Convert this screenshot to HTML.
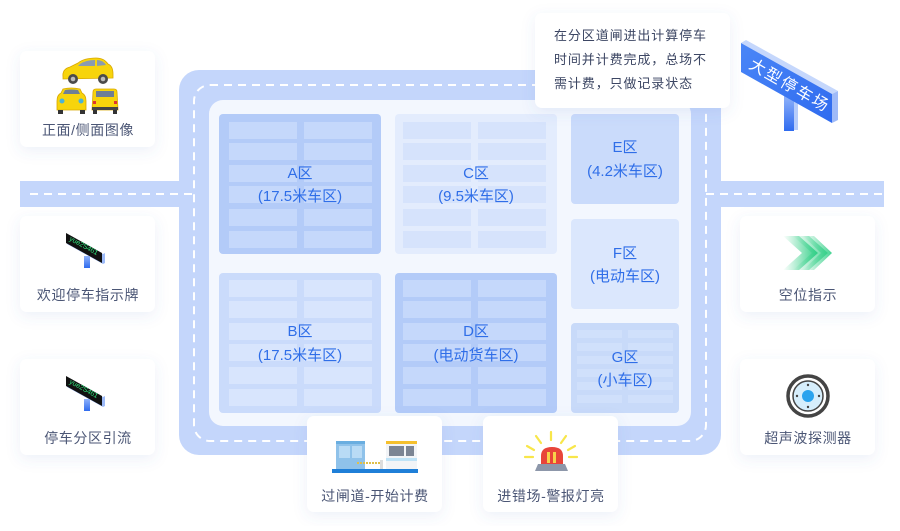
<!DOCTYPE html>
<html><head><meta charset="utf-8"><style>
html,body{margin:0;padding:0;background:#fff;}
body{width:900px;height:526px;overflow:hidden;}
svg text{font-family:"Liberation Sans","Noto Sans CJK SC",sans-serif;}
</style></head><body>
<svg width="900" height="526" viewBox="0 0 900 526" xmlns="http://www.w3.org/2000/svg">
<defs>
<filter id="sh" x="-30%" y="-30%" width="160%" height="160%">
<feDropShadow dx="0" dy="4" stdDeviation="7" flood-color="#4a72c4" flood-opacity="0.10"/>
</filter>
<linearGradient id="chev" x1="0" y1="0" x2="1" y2="0">
<stop offset="0" stop-color="#3ad08a" stop-opacity="0"/>
<stop offset="1" stop-color="#2fcf86" stop-opacity="1"/>
</linearGradient>
<linearGradient id="signf" x1="0" y1="0" x2="1" y2="1">
<stop offset="0" stop-color="#4a86f7"/>
<stop offset="1" stop-color="#2f6bef"/>
</linearGradient>
<linearGradient id="post" x1="0" y1="0" x2="0" y2="1">
<stop offset="0" stop-color="#8fb2fa"/>
<stop offset="1" stop-color="#2f6bef"/>
</linearGradient>
</defs>

<!-- roads -->
<rect x="20" y="181" width="165" height="26" fill="#c4d6fb"/>
<rect x="715" y="181" width="169" height="26" fill="#c4d6fb"/>
<rect x="179" y="70" width="542" height="385" rx="20" fill="#c4d6fb"/>
<rect x="209" y="100" width="482" height="326" rx="14" fill="#f3f7fe"/>
<rect x="194" y="85" width="512" height="356" rx="16" fill="none" stroke="#fff" stroke-width="2" stroke-dasharray="8 6"/>
<line x1="30" y1="194" x2="194" y2="194" stroke="#fff" stroke-width="2" stroke-dasharray="8 6"/>
<line x1="706" y1="194" x2="884" y2="194" stroke="#fff" stroke-width="2" stroke-dasharray="8 6"/>

<!-- Zone A -->
<rect x="219" y="114" width="162" height="140" rx="4" fill="#b3cbf8"/>
<g fill="#c5d8fb">
<rect x="229" y="122" width="68" height="17"/><rect x="304" y="122" width="68" height="17"/>
<rect x="229" y="143" width="68" height="17"/><rect x="304" y="143" width="68" height="17"/>
<rect x="229" y="165" width="68" height="17"/><rect x="304" y="165" width="68" height="17"/>
<rect x="229" y="186" width="68" height="17"/><rect x="304" y="186" width="68" height="17"/>
<rect x="229" y="209" width="68" height="17"/><rect x="304" y="209" width="68" height="17"/>
<rect x="229" y="231" width="68" height="17"/><rect x="304" y="231" width="68" height="17"/>
</g>
<!-- Zone C -->
<rect x="395" y="114" width="162" height="140" rx="4" fill="#e3ecfd"/>
<g fill="#d6e3fc">
<rect x="403" y="122" width="68" height="17"/><rect x="478" y="122" width="68" height="17"/>
<rect x="403" y="143" width="68" height="17"/><rect x="478" y="143" width="68" height="17"/>
<rect x="403" y="165" width="68" height="17"/><rect x="478" y="165" width="68" height="17"/>
<rect x="403" y="186" width="68" height="17"/><rect x="478" y="186" width="68" height="17"/>
<rect x="403" y="209" width="68" height="17"/><rect x="478" y="209" width="68" height="17"/>
<rect x="403" y="231" width="68" height="17"/><rect x="478" y="231" width="68" height="17"/>
</g>
<!-- Zone B -->
<rect x="219" y="273" width="162" height="140" rx="4" fill="#cadbfb"/>
<g fill="#d8e5fd">
<rect x="229" y="280" width="68" height="17"/><rect x="304" y="280" width="68" height="17"/>
<rect x="229" y="301" width="68" height="17"/><rect x="304" y="301" width="68" height="17"/>
<rect x="229" y="323" width="68" height="17"/><rect x="304" y="323" width="68" height="17"/>
<rect x="229" y="344" width="68" height="17"/><rect x="304" y="344" width="68" height="17"/>
<rect x="229" y="367" width="68" height="17"/><rect x="304" y="367" width="68" height="17"/>
<rect x="229" y="389" width="68" height="17"/><rect x="304" y="389" width="68" height="17"/>
</g>
<!-- Zone D -->
<rect x="395" y="273" width="162" height="140" rx="4" fill="#b3cbf8"/>
<g fill="#c5d8fb">
<rect x="403" y="280" width="68" height="17"/><rect x="478" y="280" width="68" height="17"/>
<rect x="403" y="301" width="68" height="17"/><rect x="478" y="301" width="68" height="17"/>
<rect x="403" y="323" width="68" height="17"/><rect x="478" y="323" width="68" height="17"/>
<rect x="403" y="344" width="68" height="17"/><rect x="478" y="344" width="68" height="17"/>
<rect x="403" y="367" width="68" height="17"/><rect x="478" y="367" width="68" height="17"/>
<rect x="403" y="389" width="68" height="17"/><rect x="478" y="389" width="68" height="17"/>
</g>
<!-- E F G -->
<rect x="571" y="114" width="108" height="90" rx="4" fill="#cadbfb"/>
<rect x="571" y="219" width="108" height="90" rx="4" fill="#dbe7fd"/>
<rect x="571" y="323" width="108" height="90" rx="4" fill="#c8daf9"/>
<g fill="#d0e0fb">
<rect x="577" y="330" width="45" height="8"/><rect x="628" y="330" width="45" height="8"/>
<rect x="577" y="343" width="45" height="8"/><rect x="628" y="343" width="45" height="8"/>
<rect x="577" y="356" width="45" height="8"/><rect x="628" y="356" width="45" height="8"/>
<rect x="577" y="369" width="45" height="8"/><rect x="628" y="369" width="45" height="8"/>
<rect x="577" y="382" width="45" height="8"/><rect x="628" y="382" width="45" height="8"/>
<rect x="577" y="395" width="45" height="8"/><rect x="628" y="395" width="45" height="8"/>
</g>

<!-- zone labels -->
<g fill="#2f6ee8" font-size="15" text-anchor="middle">
<text x="300" y="178">A区</text><text x="300" y="201">(17.5米车区)</text>
<text x="476" y="178">C区</text><text x="476" y="201">(9.5米车区)</text>
<text x="300" y="336">B区</text><text x="300" y="360">(17.5米车区)</text>
<text x="476" y="336">D区</text><text x="476" y="360">(电动货车区)</text>
<text x="625" y="152">E区</text><text x="625" y="176">(4.2米车区)</text>
<text x="625" y="258">F区</text><text x="625" y="281">(电动车区)</text>
<text x="625" y="362">G区</text><text x="625" y="385">(小车区)</text>
</g>

<!-- cards -->
<g fill="#fff" filter="url(#sh)">
<rect x="20" y="51" width="135" height="96" rx="7"/>
<rect x="20" y="216" width="135" height="96" rx="7"/>
<rect x="20" y="359" width="135" height="96" rx="7"/>
<rect x="740" y="216" width="135" height="96" rx="7"/>
<rect x="740" y="359" width="135" height="96" rx="7"/>
<rect x="307" y="416" width="135" height="96" rx="7"/>
<rect x="483" y="416" width="135" height="96" rx="7"/>
<rect x="535" y="13" width="195" height="95" rx="7"/>
</g>

<g fill="#4b5675" font-size="14" text-anchor="middle" letter-spacing="0.6">
<text x="88" y="135">正面/侧面图像</text>
<text x="88" y="300">欢迎停车指示牌</text>
<text x="88" y="443">停车分区引流</text>
<text x="808" y="300">空位指示</text>
<text x="808" y="443">超声波探测器</text>
<text x="375" y="501">过闸道-开始计费</text>
<text x="551" y="501">进错场-警报灯亮</text>
</g>
<g fill="#3c4663" font-size="13" letter-spacing="0.9">
<text x="554" y="40">在分区道闸进出计算停车</text>
<text x="554" y="64">时间并计费完成，总场不</text>
<text x="554" y="88">需计费，只做记录状态</text>
</g>

<!-- cars -->
<g>
<path d="M63 77 Q62 69 70 67 L78 63 Q84 58 96 58 Q104 58 108 64 Q113 66 113 74 L113 78 L63 79 Z" fill="#f7d40c" stroke="#d9a800" stroke-width="0.8"/>
<path d="M80 64 Q86 60 95 60 L95 66 L78 66 Z" fill="#8a9bb0"/>
<path d="M97 60 Q103 60 106 65 L97 66 Z" fill="#8a9bb0"/>
<circle cx="73" cy="79" r="5" fill="#4a4a4a"/><circle cx="73" cy="79" r="2.3" fill="#bbb"/>
<circle cx="103" cy="79" r="5" fill="#4a4a4a"/><circle cx="103" cy="79" r="2.3" fill="#bbb"/>
<path d="M57 101 Q57 95 61 93 L63 89 Q71 87 80 89 L82 93 Q86 95 86 101 L86 110 L57 110 Z" fill="#f7d40c" stroke="#d9a800" stroke-width="0.8"/>
<path d="M63 94 L65 90 Q71 89 78 90 L80 94 Z" fill="#6f7f95"/>
<circle cx="62" cy="101" r="2.5" fill="#4ab3d8"/><circle cx="81" cy="101" r="2.5" fill="#4ab3d8"/>
<rect x="58" y="110" width="5" height="4" fill="#333"/><rect x="80" y="110" width="5" height="4" fill="#333"/>
<path d="M93 92 Q93 89 96 89 L114 89 Q117 89 117 92 L118 110 L92 110 Z" fill="#f7d40c" stroke="#d9a800" stroke-width="0.8"/>
<rect x="96" y="91" width="18" height="6" fill="#6f7f95"/>
<rect x="93" y="101" width="3" height="3" fill="#d33"/><rect x="114" y="101" width="3" height="3" fill="#d33"/>
<rect x="92" y="107" width="26" height="3" fill="#444"/>
<rect x="93" y="110" width="4" height="4" fill="#333"/><rect x="113" y="110" width="4" height="4" fill="#333"/>
</g>

<!-- small signs -->
<g>
<rect x="84" y="256" width="6" height="12" fill="url(#post)"/>
<polygon points="67,234 103,254 105,253 105,263 103,264 67,244" fill="#9dbaf8"/>
<polygon points="66,233 102,253 102,263 66,243" fill="#111"/>
<text x="0" y="0" font-size="7" fill="#2fe07a" font-family="Liberation Mono,monospace" transform="translate(69,240) rotate(29)">yue2S461</text>
</g>
<g transform="translate(0,143)">
<rect x="84" y="256" width="6" height="12" fill="url(#post)"/>
<polygon points="67,234 103,254 105,253 105,263 103,264 67,244" fill="#9dbaf8"/>
<polygon points="66,233 102,253 102,263 66,243" fill="#111"/>
<text x="0" y="0" font-size="7" fill="#2fe07a" font-family="Liberation Mono,monospace" transform="translate(69,240) rotate(29)">yue2S461</text>
</g>

<!-- chevrons -->
<g fill="url(#chev)">
<polygon points="783,236 799,236 818,253 799,270 783,270 802,253"/>
<polygon points="793,236 809,236 828,253 809,270 793,270 812,253" opacity="0.85"/>
<polygon points="803,236 814,236 832,253 814,270 803,270 821,253" opacity="0.9"/>
</g>

<!-- ultrasonic -->
<circle cx="808" cy="396" r="20" fill="#fff" stroke="#444" stroke-width="3.5"/>
<circle cx="808" cy="396" r="15" fill="#d6eefc" stroke="#444" stroke-width="1.5"/>
<circle cx="808" cy="396" r="6" fill="#2aa3ee"/>
<g fill="#444"><circle cx="808" cy="385" r="1.2"/><circle cx="808" cy="407" r="1.2"/><circle cx="797" cy="396" r="1.2"/><circle cx="819" cy="396" r="1.2"/></g>

<!-- gate -->
<g>
<rect x="332" y="469" width="86" height="4" fill="#1f7fd8"/>
<rect x="336" y="441" width="29" height="28" fill="#8fc2ea"/>
<rect x="336" y="441" width="29" height="3" fill="#6aaee0"/>
<rect x="339" y="446" width="11" height="12" fill="#b9dbf5"/><rect x="352" y="446" width="10" height="12" fill="#b9dbf5"/>
<line x1="357" y1="463" x2="380" y2="463" stroke="#e0c04a" stroke-width="2" stroke-dasharray="2 1"/>
<rect x="380" y="460" width="3" height="9" fill="#ddd"/>
<rect x="386" y="441" width="31" height="28" fill="#f2f4f7"/>
<rect x="386" y="441" width="31" height="3" fill="#f5c02e"/>
<rect x="389" y="446" width="15" height="10" fill="#7c8594"/><rect x="406" y="446" width="8" height="10" fill="#7c8594"/>
<rect x="386" y="458" width="31" height="3" fill="#bfe3f7"/>
</g>

<!-- alarm -->
<g stroke="#f8e64a" stroke-width="2.2" stroke-linecap="round">
<line x1="551" y1="440" x2="551" y2="432"/>
<line x1="541" y1="443" x2="536" y2="436"/>
<line x1="561" y1="443" x2="566" y2="436"/>
<line x1="534" y1="450" x2="527" y2="446"/>
<line x1="568" y1="450" x2="575" y2="446"/>
<line x1="533" y1="457" x2="525" y2="457"/>
<line x1="569" y1="457" x2="577" y2="457"/>
</g>
<path d="M541 464 L541 456 Q541 447 552 447 Q563 447 563 456 L563 464 Z" fill="#e8453a"/>
<rect x="547" y="452" width="3" height="11" fill="#f7d24a"/><rect x="553" y="452" width="3" height="11" fill="#f7d24a"/>
<polygon points="538,464 565,464 568,471 535,471" fill="#8d97aa"/>

<!-- big sign -->
<rect x="784" y="96" width="10" height="35" fill="url(#post)"/>
<rect x="794" y="98" width="4" height="32" fill="#b7cdfb"/>
<polygon points="741,43 746,40 838,91 832,94" fill="#c5d7fc"/>
<polygon points="832,94 838,91 838,120 832,123" fill="#9fbaf8"/>
<polygon points="741,43 832,94 832,123 741,72" fill="url(#signf)"/>
<text x="0" y="0" font-size="16" fill="#fff" letter-spacing="2" text-anchor="middle" transform="translate(787,90) rotate(30)">大型停车场</text>
</svg>
</body></html>
